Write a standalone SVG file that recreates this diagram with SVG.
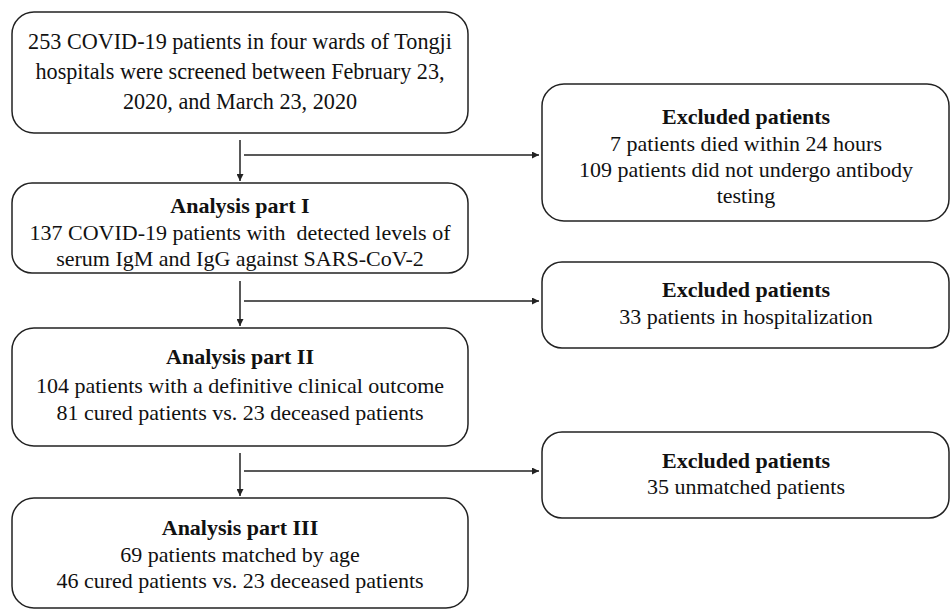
<svg xmlns="http://www.w3.org/2000/svg" width="950" height="611" viewBox="0 0 950 611">
<style>
.box{fill:#fff;stroke:#222;stroke-width:1.5}
.t{font-family:"Liberation Serif","Times New Roman",serif;font-size:22px;fill:#111;text-anchor:middle}
.b{font-weight:bold}
.ln{stroke:#222;stroke-width:1.5;fill:none}
</style>
<defs>
<marker id="ah" viewBox="0 0 10 10" refX="10" refY="5" markerWidth="7" markerHeight="7" markerUnits="userSpaceOnUse" orient="auto">
<path d="M0,0 L10,5 L0,10 z" fill="#222"/>
</marker>
</defs>
<rect width="950" height="611" fill="#fff"/>
<g id="connectors">
<line class="ln" x1="240" y1="140" x2="240" y2="181" marker-end="url(#ah)"/>
<line class="ln" x1="244" y1="155" x2="539" y2="155" marker-end="url(#ah)"/>
<line class="ln" x1="240" y1="281" x2="240" y2="326" marker-end="url(#ah)"/>
<line class="ln" x1="244" y1="301" x2="539" y2="301" marker-end="url(#ah)"/>
<line class="ln" x1="240" y1="453" x2="240" y2="496" marker-end="url(#ah)"/>
<line class="ln" x1="244" y1="471" x2="539" y2="471" marker-end="url(#ah)"/>
</g>
<g id="screened">
<rect class="box" x="12" y="12" width="456" height="121" rx="22"/>
<text class="t" x="240" y="49" style="font-size:22.2px">253 COVID-19 patients in four wards of Tongji</text>
<text class="t" x="240" y="79" style="font-size:22.2px">hospitals were screened between February 23,</text>
<text class="t" x="240" y="109" style="font-size:22.2px">2020, and March 23, 2020</text>
</g>
<g id="excluded1">
<rect class="box" x="542" y="84" width="407" height="137" rx="22"/>
<text class="t b" x="746" y="124">Excluded patients</text>
<text class="t" x="746" y="151">7 patients died within 24 hours</text>
<text class="t" x="746" y="177">109 patients did not undergo antibody</text>
<text class="t" x="746" y="203">testing</text>
</g>
<g id="part1">
<rect class="box" x="12" y="183" width="456" height="90" rx="20"/>
<text class="t b" x="240" y="213">Analysis part I</text>
<text class="t" x="240" y="240" style="white-space:pre">137 COVID-19 patients with  detected levels of</text>
<text class="t" x="240" y="266">serum IgM and IgG against SARS-CoV-2</text>
</g>
<g id="excluded2">
<rect class="box" x="542" y="262" width="407" height="86" rx="20"/>
<text class="t b" x="746" y="297">Excluded patients</text>
<text class="t" x="746" y="324">33 patients in hospitalization</text>
</g>
<g id="part2">
<rect class="box" x="12" y="328" width="456" height="118" rx="22"/>
<text class="t b" x="240" y="364">Analysis part II</text>
<text class="t" x="240" y="393">104 patients with a definitive clinical outcome</text>
<text class="t" x="240" y="420">81 cured patients vs. 23 deceased patients</text>
</g>
<g id="excluded3">
<rect class="box" x="542" y="432" width="407" height="86" rx="20"/>
<text class="t b" x="746" y="468">Excluded patients</text>
<text class="t" x="746" y="494">35 unmatched patients</text>
</g>
<g id="part3">
<rect class="box" x="12" y="498" width="456" height="110" rx="22"/>
<text class="t b" x="240" y="535">Analysis part III</text>
<text class="t" x="240" y="562">69 patients matched by age</text>
<text class="t" x="240" y="588">46 cured patients vs. 23 deceased patients</text>
</g>
</svg>
